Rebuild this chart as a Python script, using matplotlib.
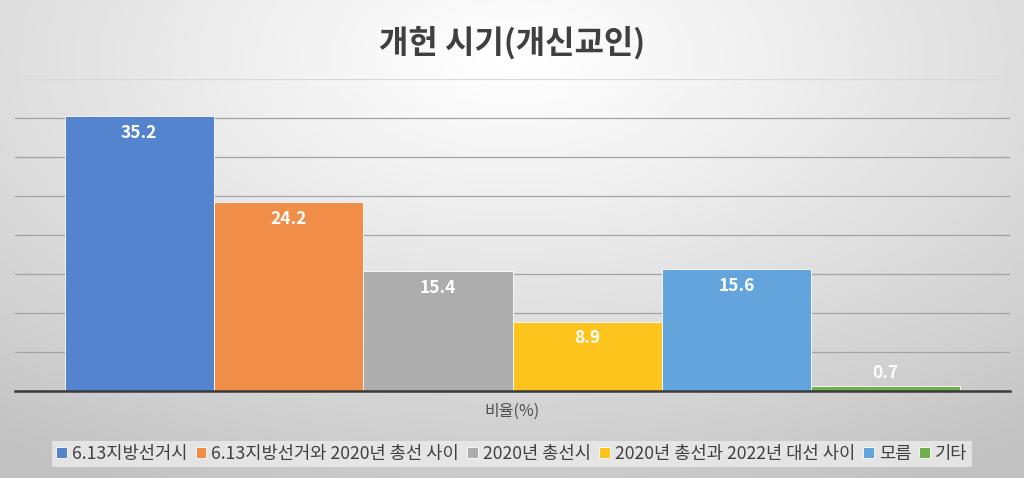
import matplotlib
matplotlib.use("Agg")
import matplotlib.pyplot as plt
import numpy as np

plt.rcParams["font.family"] = ["Noto Sans CJK KR", "DejaVu Sans"]

title = "개헌 시기(개신교인)"
group_label = "비율(%)"
categories = [
    "6.13지방선거시",
    "6.13지방선거와 2020년 총선 사이",
    "2020년 총선시",
    "2020년 총선과 2022년 대선 사이",
    "모름",
    "기타",
]
values = [35.2, 24.2, 15.4, 8.9, 15.6, 0.7]
colors = ["#5584CE", "#F08D48", "#ADADAD", "#FEC41E", "#64A4DC", "#72AE4C"]

fig = plt.figure(figsize=(10.24, 4.78), dpi=100)

# gray gradient background, light near the title, darker towards edges
bg = fig.add_axes([0, 0, 1, 1], zorder=-10)
yy, xx = np.mgrid[0:1:240j, 0:1:512j]
d = np.sqrt(((xx - 0.5) / 0.85) ** 2 + ((yy - 0.12) / 1.0) ** 2)
shade = 1.0 - 0.24 * np.clip(d, 0, 1) ** 1.1
bg.imshow(shade, cmap="gray", vmin=0, vmax=1, aspect="auto",
          extent=[0, 1, 1, 0], interpolation="bilinear")
bg.set_xlim(0, 1)
bg.set_ylim(1, 0)
bg.axis("off")

ax = fig.add_axes([15 / 1024, 1 - 391 / 478, 995 / 1024, 312 / 478])
ax.set_facecolor("none")

n = len(values)
x = np.arange(n) - (n - 1) / 2
bars = ax.bar(x, values, width=1.0, color=colors, edgecolor="white",
              linewidth=0.6, label=categories, zorder=3)

for xi, v in zip(x, values):
    offset = -12 if v > 3 else 9
    ax.annotate(f"{v}", (xi, v), xytext=(0, offset), textcoords="offset points",
                ha="center", va="center", color="white", fontsize=12.5,
                fontweight="bold", zorder=4)

ax.set_xlim(-3.332, 3.332)
ax.set_ylim(0, 40)
ax.set_yticks(np.arange(5, 36, 5))
ax.yaxis.grid(True, color="#A3A3A3", linewidth=0.9, zorder=0)
ax.axhline(40, color="#D8D8D8", linewidth=0.9, zorder=0)
ax.tick_params(left=False, bottom=False, labelleft=False, labelbottom=False)
for side in ["left", "right", "top"]:
    ax.spines[side].set_visible(False)
ax.spines["bottom"].set_color("#3A3A3A")
ax.spines["bottom"].set_linewidth(1.8)
ax.spines["bottom"].set_zorder(5)

fig.text(0.5, 1 - 43 / 478, title, ha="center", va="center",
         fontsize=23, fontweight="bold", color="#404040")
fig.text(0.5, 1 - 411 / 478, group_label, ha="center", va="center",
         fontsize=11.5, color="#505050")

leg = fig.legend(handles=bars, labels=categories, loc="center",
                 bbox_to_anchor=(0.5, 1 - 454 / 478), ncol=n,
                 frameon=True, fontsize=12.7, handlelength=0.6, handleheight=0.6,
                 handletextpad=0.3, columnspacing=0.45, borderpad=0.25,
                 labelcolor="#404040")
leg.get_frame().set_facecolor("#ECECEC")
leg.get_frame().set_edgecolor("none")
leg.get_frame().set_boxstyle("square", pad=0.0)

fig.savefig("out.png", dpi=100)
